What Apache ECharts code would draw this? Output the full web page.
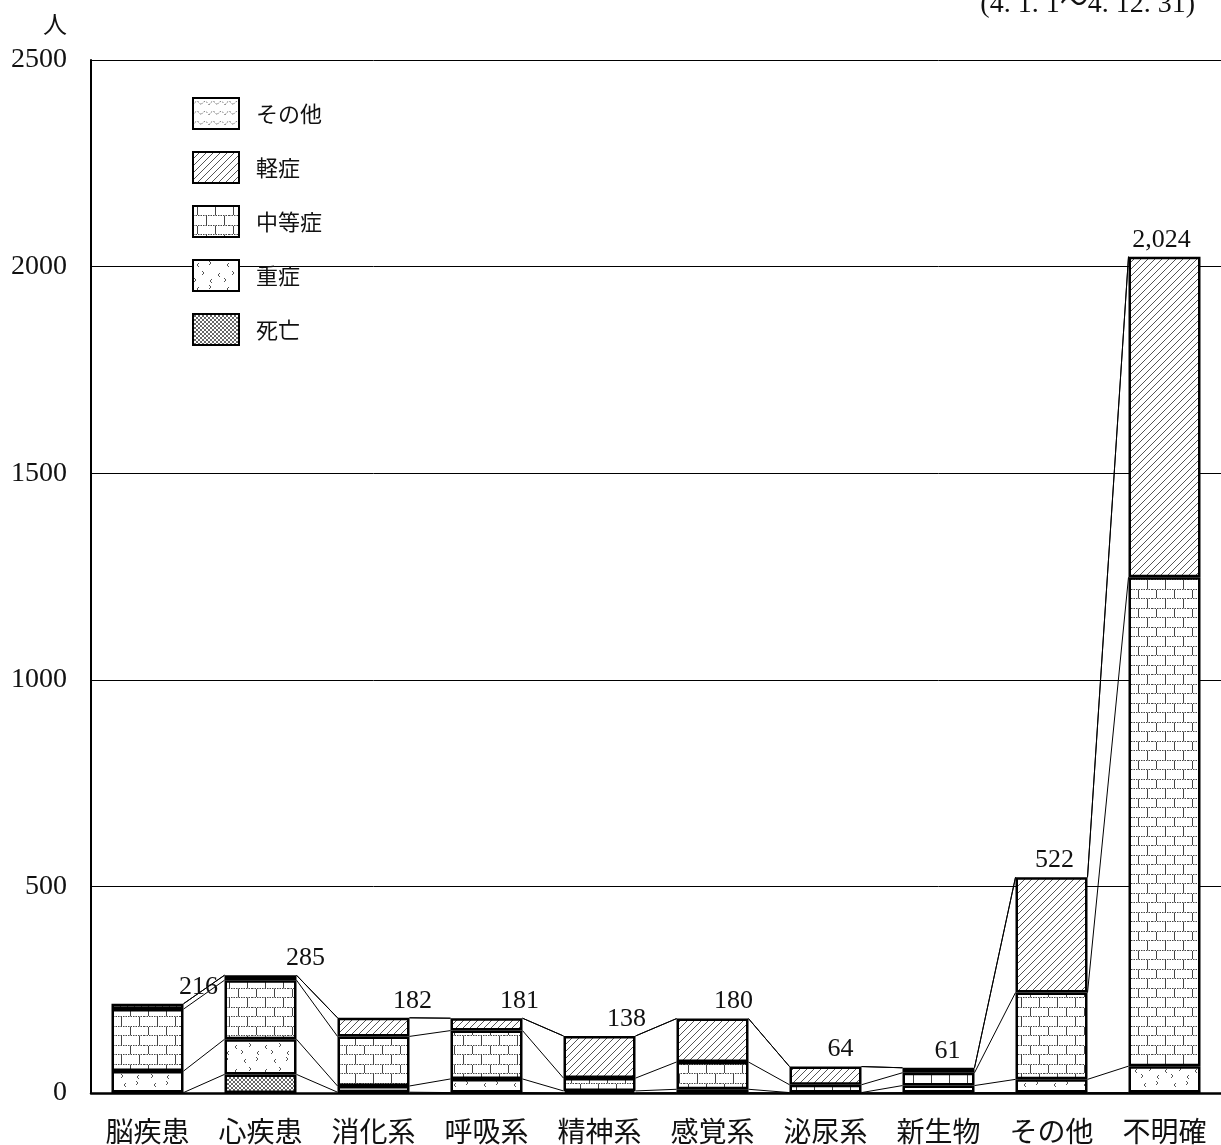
<!DOCTYPE html>
<html>
<head>
<meta charset="utf-8">
<script src="https://cdn.jsdelivr.net/npm/echarts@6/dist/echarts.min.js"></script>
<style>
  html, body { margin: 0; padding: 0; background: #fff; }
  #chart { width: 1221px; height: 1145px; }
</style>
</head>
<body>
<div id="chart"></div>
<script>
// 疾病分類別・傷病程度別搬送人員
const categories = ['脳疾患', '心疾患', '消化系', '呼吸系', '精神系', '感覚系', '泌尿系', '新生物', 'その他', '不明確'];
const deaths   = [1, 45, 2, 1, 0, 1, 0, 1, 1, 1];               // 死亡
const severe   = [52, 85, 15, 33, 5, 8, 1, 17, 32, 64];         // 重症
const moderate = [150, 143, 120, 117, 31, 66, 19, 31, 210, 1183]; // 中等症
const mild     = [13, 12, 45, 30, 102, 105, 44, 12, 279, 776];  // 軽症
const others   = [0, 0, 0, 0, 0, 0, 0, 0, 0, 0];                // その他
const yTicks   = [0, 500, 1000, 1500, 2000, 2500];
const periodNote = '(4. 1. 1〜4. 12. 31)';

const BAR_W = 72;
const SERIF = "'Liberation Serif', 'Noto Sans CJK JP', serif";
const CJK = "'Noto Sans CJK JP', sans-serif";

// ---- monochrome fill patterns ----
function tile(w, h, draw) {
  const c = document.createElement('canvas');
  c.width = w; c.height = h;
  const ctx = c.getContext('2d');
  ctx.fillStyle = '#fff';
  ctx.fillRect(0, 0, w, h);
  draw(ctx, w, h);
  return { image: c, repeat: 'repeat' };
}

const patDeath = tile(4, 4, (ctx) => {
  ctx.strokeStyle = '#666';
  ctx.lineWidth = 1;
  ctx.beginPath();
  ctx.moveTo(0, 0); ctx.lineTo(4, 4);
  ctx.moveTo(4, 0); ctx.lineTo(0, 4);
  ctx.stroke();
});

const patSevere = tile(30, 24, (ctx) => {
  ctx.strokeStyle = '#555';
  ctx.lineWidth = 1;
  const marks = [[4, 5, 1], [18, 3, -1], [11, 13, -1], [25, 15, 1], [3, 20, -1], [17, 21, 1]];
  marks.forEach(([x, y, d]) => {
    ctx.beginPath();
    ctx.moveTo(x + 2 * d, y - 2);
    ctx.lineTo(x, y);
    ctx.lineTo(x + 2 * d, y + 2);
    ctx.stroke();
  });
});

const patModerate = tile(36, 19, (ctx) => {
  ctx.strokeStyle = '#444';
  ctx.lineWidth = 1;
  ctx.setLineDash([1.5, 1]);
  ctx.beginPath();
  ctx.moveTo(0, 0.5); ctx.lineTo(36, 0.5);
  ctx.moveTo(0, 9.5); ctx.lineTo(36, 9.5);
  ctx.stroke();
  ctx.setLineDash([]);
  ctx.beginPath();
  ctx.moveTo(4.5, 1); ctx.lineTo(4.5, 9);
  ctx.moveTo(22.5, 1); ctx.lineTo(22.5, 9);
  ctx.moveTo(13.5, 10); ctx.lineTo(13.5, 19);
  ctx.moveTo(31.5, 10); ctx.lineTo(31.5, 19);
  ctx.stroke();
});

const patMild = tile(7, 7, (ctx) => {
  ctx.strokeStyle = '#555';
  ctx.lineWidth = 1;
  ctx.beginPath();
  ctx.moveTo(0, 7); ctx.lineTo(7, 0);
  ctx.moveTo(-1, 1); ctx.lineTo(1, -1);
  ctx.moveTo(6, 8); ctx.lineTo(8, 6);
  ctx.stroke();
});

const patOther = tile(16, 10, (ctx) => {
  ctx.strokeStyle = '#666';
  ctx.lineWidth = 1;
  ctx.setLineDash([1.5, 1.5]);
  ctx.beginPath();
  ctx.moveTo(0, 7);
  ctx.quadraticCurveTo(4, 0, 8, 7);
  ctx.quadraticCurveTo(12, 0, 16, 7);
  ctx.stroke();
});

// ---- stacking (bottom → top) ----
const stackDefs = [
  { name: '死亡', data: deaths, fill: patDeath },
  { name: '重症', data: severe, fill: patSevere },
  { name: '中等症', data: moderate, fill: patModerate },
  { name: '軽症', data: mild, fill: patMild },
  { name: 'その他', data: others, fill: patOther }
];
const cumulative = stackDefs.map((_, k) =>
  categories.map((_, i) => stackDefs.slice(0, k + 1).reduce((s, d) => s + d.data[i], 0))
);
const totals = cumulative[cumulative.length - 1];

const barSeries = stackDefs.map(d => ({
  name: d.name,
  type: 'bar',
  stack: 'total',
  barWidth: BAR_W,
  // empty segments get no outline so they don't thicken neighbouring edges
  data: d.data.map(v => v === 0 ? { value: v, itemStyle: { borderWidth: 0, opacity: 0 } } : v),
  itemStyle: { color: d.fill, borderColor: '#000', borderWidth: 2.5 },
  emphasis: { disabled: true },
  z: 3
}));

// thin lines joining matching stack boundaries of neighbouring bars
const connectorSeries = {
  type: 'custom',
  silent: true,
  z: 2,
  data: categories.slice(0, -1).map((_, i) => [i]),
  renderItem(params, api) {
    const i = api.value(0);
    const half = BAR_W / 2;
    return {
      type: 'group',
      children: cumulative.map(row => {
        const a = api.coord([i, row[i]]);
        const b = api.coord([i + 1, row[i + 1]]);
        return {
          type: 'line',
          shape: { x1: a[0] + half, y1: a[1], x2: b[0] - half, y2: b[1] },
          style: { stroke: '#000', lineWidth: 1 }
        };
      })
    };
  }
};

// total labels above each bar, drifting leftward across the chart
const totalLabelSeries = {
  type: 'custom',
  silent: true,
  z: 5,
  data: totals.map((t, i) => [i, t]),
  renderItem(params, api) {
    const i = api.value(0);
    const t = api.value(1);
    const p = api.coord([i, t]);
    return {
      type: 'text',
      x: p[0] + 51 - 6 * i,
      y: p[1] - 17,
      style: {
        text: t.toLocaleString('en-US'),
        fontFamily: SERIF,
        fontSize: 26,
        fill: '#111',
        align: 'center',
        verticalAlign: 'middle'
      }
    };
  }
};

const chart = echarts.init(document.getElementById('chart'), null, { renderer: 'canvas' });
chart.setOption({
  animation: false,
  backgroundColor: '#fff',
  grid: { left: 91, top: 60, width: 1132, height: 1033.5 },
  legend: {
    data: ['その他', '軽症', '中等症', '重症', '死亡'],
    orient: 'vertical',
    left: 192,
    top: 97,
    padding: 0,
    icon: 'rect',
    itemWidth: 46,
    itemHeight: 31,
    itemGap: 21,
    selectedMode: false,
    itemStyle: { borderColor: '#000', borderWidth: 2 },
    textStyle: { fontFamily: CJK, fontSize: 22, color: '#111', padding: [0, 0, 0, 12] },
    z: 10
  },
  xAxis: {
    type: 'category',
    data: categories,
    axisLine: { lineStyle: { color: '#000', width: 2.5 } },
    axisTick: { inside: true, length: 9, lineStyle: { color: '#000', width: 2 } },
    axisLabel: { fontFamily: CJK, fontSize: 28, color: '#111', margin: 24 },
    z: 6
  },
  yAxis: {
    type: 'value',
    min: yTicks[0],
    max: yTicks[yTicks.length - 1],
    interval: yTicks[1] - yTicks[0],
    name: '人',
    nameLocation: 'end',
    nameGap: 24,
    nameTextStyle: { fontFamily: CJK, fontSize: 24, color: '#111', align: 'right', padding: [0, 24, 0, 0] },
    axisLine: { show: true, lineStyle: { color: '#000', width: 2 } },
    axisTick: { show: false },
    splitLine: { lineStyle: { color: '#000', width: 1 } },
    axisLabel: { fontFamily: SERIF, fontSize: 28, color: '#111', margin: 24, formatter: v => String(v) }
  },
  graphic: [{
    type: 'text',
    right: 26,
    top: -9,
    style: { text: periodNote, fontFamily: SERIF, fontSize: 28, fill: '#111' }
  }],
  series: [...barSeries, connectorSeries, totalLabelSeries]
});
</script>
</body>
</html>
